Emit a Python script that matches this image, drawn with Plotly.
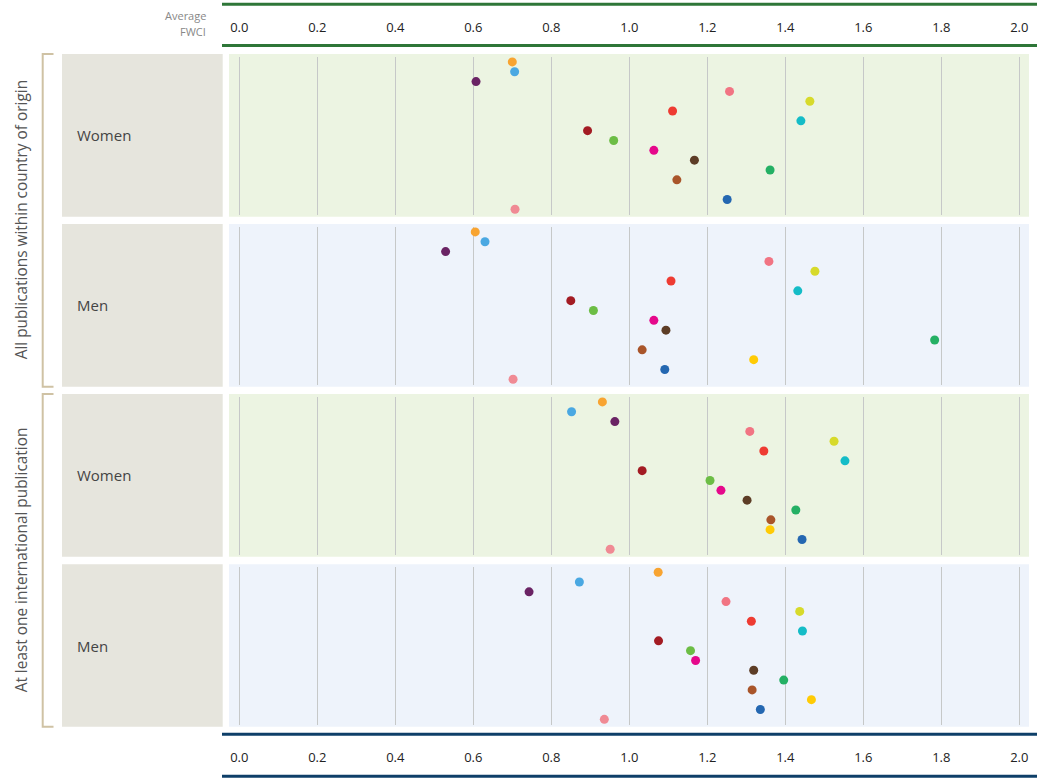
import plotly.graph_objects as go

W, H = 1045, 778

# ---------------- data ----------------
row_index = list(range(16))
point_colors = ["#F8A431", "#4AA8E2", "#6A2364", "#F17483", "#D7DA2B", "#EE3B32",
                "#14BCC7", "#A31B23", "#6CBD45", "#E5088B", "#5D3D26", "#24B064",
                "#A9552A", "#FFCB05", "#2467B1", "#F08A94"]

panel_labels = ["Women", "Men", "Women", "Men"]
group_labels = ["All publications within country of origin",
                "At least one international publication"]

women_all = [0.700, 0.706, 0.607, 1.257, 1.463, 1.111, 1.440, 0.893, 0.960,
             1.063, 1.167, 1.361, 1.122, None, 1.251, 0.707]
men_all = [0.605, 0.630, 0.529, 1.358, 1.476, 1.107, 1.432, 0.850, 0.908,
           1.063, 1.094, 1.783, 1.033, 1.319, 1.091, 0.702]
women_intl = [0.931, 0.852, 0.963, 1.309, 1.525, 1.345, 1.553, 1.033, 1.207,
              1.235, 1.302, 1.427, 1.363, 1.361, 1.443, 0.951]
men_intl = [1.074, 0.872, 0.743, 1.248, 1.437, 1.313, 1.444, 1.075, 1.157,
            1.170, 1.319, 1.396, 1.315, 1.467, 1.336, 0.936]

tick_values = [0.0, 0.2, 0.4, 0.6, 0.8, 1.0, 1.2, 1.4, 1.6, 1.8, 2.0]
tick_labels = ["0.0", "0.2", "0.4", "0.6", "0.8", "1.0", "1.2", "1.4", "1.6", "1.8", "2.0"]
axis_title = ["Average", "FWCI"]

series = [women_all, men_all, women_intl, men_intl]

# ---------------- layout helpers ----------------
def px(x):
    return x / W

def py(y):
    return 1 - y / H

FONT = "Open Sans"
panel_px = [(54, 216.7), (224, 386.7), (394, 556.7), (564.3, 726.7)]
panel_bg = ["#ECF4E2", "#EEF3FB", "#ECF4E2", "#EEF3FB"]
plot_x0, plot_x1 = 229, 1029
x_range = [-0.0264, 2.0249]

fig = go.Figure()
layout = dict(
    width=W, height=H,
    margin=dict(l=0, r=0, t=0, b=0),
    paper_bgcolor="white",
    plot_bgcolor="rgba(0,0,0,0)",
    showlegend=False,
    font=dict(family=FONT, size=13, color="#222"),
)

shapes = []
annotations = []

for k, vals in enumerate(series):
    n = "" if k == 0 else str(k + 1)
    top, bot = panel_px[k]
    fig.add_trace(go.Scatter(
        x=vals, y=row_index, mode="markers",
        marker=dict(color=point_colors, size=9, line=dict(width=0)),
        xaxis="x" + n, yaxis="y" + n, hoverinfo="x",
    ))
    xa = dict(
        domain=[px(plot_x0), px(plot_x1)], range=x_range, anchor="y" + n,
        tickvals=tick_values, ticktext=tick_labels,
        showgrid=True, gridcolor="#C6C8C8", gridwidth=1, zeroline=False,
        showline=False, ticks="", showticklabels=False,
        tickfont=dict(family=FONT, size=13, color="#222"),
    )
    if k == 0:
        xa.update(side="top", showticklabels=True, ticklabelstandoff=21)
    if k == 3:
        xa.update(side="bottom", showticklabels=True, ticklabelstandoff=23)
    ya = dict(
        domain=[py(bot - 2), py(top + 3)], range=[15.55, -0.5], anchor="x" + n,
        showgrid=False, zeroline=False, showticklabels=False, ticks="",
    )
    layout["xaxis" + n] = xa
    layout["yaxis" + n] = ya

    # panel background
    shapes.append(dict(type="rect", xref="paper", yref="paper", layer="below",
                       x0=px(plot_x0), x1=px(plot_x1), y0=py(bot), y1=py(top),
                       fillcolor=panel_bg[k], line=dict(width=0)))
    # label box
    shapes.append(dict(type="rect", xref="paper", yref="paper", layer="below",
                       x0=px(62), x1=px(222.7), y0=py(bot), y1=py(top),
                       fillcolor="#E6E5DD", line=dict(width=0)))
    annotations.append(dict(text=panel_labels[k], xref="paper", yref="paper",
                            x=px(75), y=py((top + bot) / 2), xanchor="left",
                            yanchor="middle", showarrow=False,
                            font=dict(family=FONT, size=15, color="#444")))

# group brackets and labels
for g, (t, b) in enumerate([(54, 386.7), (394, 726.7)]):
    shapes.append(dict(type="path", xref="paper", yref="paper", layer="above",
                       path=f"M {px(53.5)},{py(t)} L {px(42.7)},{py(t)} L {px(42.7)},{py(b)} L {px(53.5)},{py(b)}",
                       line=dict(color="#CFC2A4", width=2)))
    annotations.append(dict(text=group_labels[g], xref="paper", yref="paper",
                            x=px(21), y=py((t + b) / 2), textangle=-90,
                            xanchor="center", yanchor="middle", showarrow=False,
                            font=dict(family=FONT, size=15.4, color="#555")))

# axis frame lines
for yy, col in [(4.2, "#2E7638"), (45.5, "#2E7638"), (734.3, "#0E3F68"), (776.3, "#0E3F68")]:
    shapes.append(dict(type="line", xref="paper", yref="paper", layer="above",
                       x0=px(222), x1=px(1037), y0=py(yy), y1=py(yy),
                       line=dict(color=col, width=3)))

# axis title
for txt, yy in zip(axis_title, [16, 32]):
    annotations.append(dict(text=txt, xref="paper", yref="paper",
                            x=px(208), y=py(yy), xanchor="right", yanchor="middle",
                            showarrow=False,
                            font=dict(family=FONT, size=11, color="#888")))

layout["shapes"] = shapes
layout["annotations"] = annotations
fig.update_layout(**layout)
fig.write_html("out.html",
               config={"displayModeBar": False},
               post_script="document.body.style.margin='0';document.body.style.overflow='hidden';")
